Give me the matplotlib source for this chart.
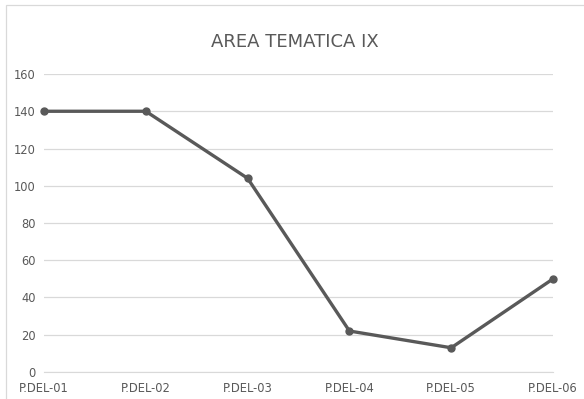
import matplotlib
matplotlib.use('Agg')
import matplotlib.pyplot as plt
from matplotlib.patches import Rectangle

# Data
categories = ['P.DEL-01', 'P.DEL-02', 'P.DEL-03', 'P.DEL-04', 'P.DEL-05', 'P.DEL-06']
values = [140, 140, 104, 22, 13, 50]
yticks = [0, 20, 40, 60, 80, 100, 120, 140, 160]

plt.rcParams['font.family'] = ['DejaVu Sans']

fig = plt.figure(figsize=(5.84, 3.99), dpi=100)
ax = fig.add_axes([0.0753, 0.0677, 0.8717, 0.7468])

x = list(range(len(categories)))
ax.plot(x, values, color='#595959', linewidth=2.4, marker='o', markersize=5,
        solid_capstyle='round', zorder=3, clip_on=False)

ax.set_xlim(0, len(categories) - 1)
ax.set_ylim(0, 160)
ax.set_yticks(yticks)
ax.set_xticks(x)
ax.set_xticklabels(categories)

ax.grid(axis='y', color='#d9d9d9', linewidth=0.9)
ax.set_axisbelow(True)
for s in ax.spines.values():
    s.set_visible(False)
ax.spines['bottom'].set_visible(True)
ax.spines['bottom'].set_color('#d9d9d9')

ax.tick_params(axis='both', length=0, labelsize=8.3, labelcolor='#595959')
ax.tick_params(axis='x', pad=7)
ax.tick_params(axis='y', pad=6)

fig.text(0.505, 0.895, 'AREA TEMATICA IX', ha='center', va='center',
         fontsize=13, color='#595959')

# light border around the chart area (right/bottom edges fall outside the image)
fig.patches.append(Rectangle((0.0103, -0.01), 1.0, 0.9975, transform=fig.transFigure,
                             fill=False, edgecolor='#d9d9d9', linewidth=0.9))

fig.savefig('out.png', dpi=100)
